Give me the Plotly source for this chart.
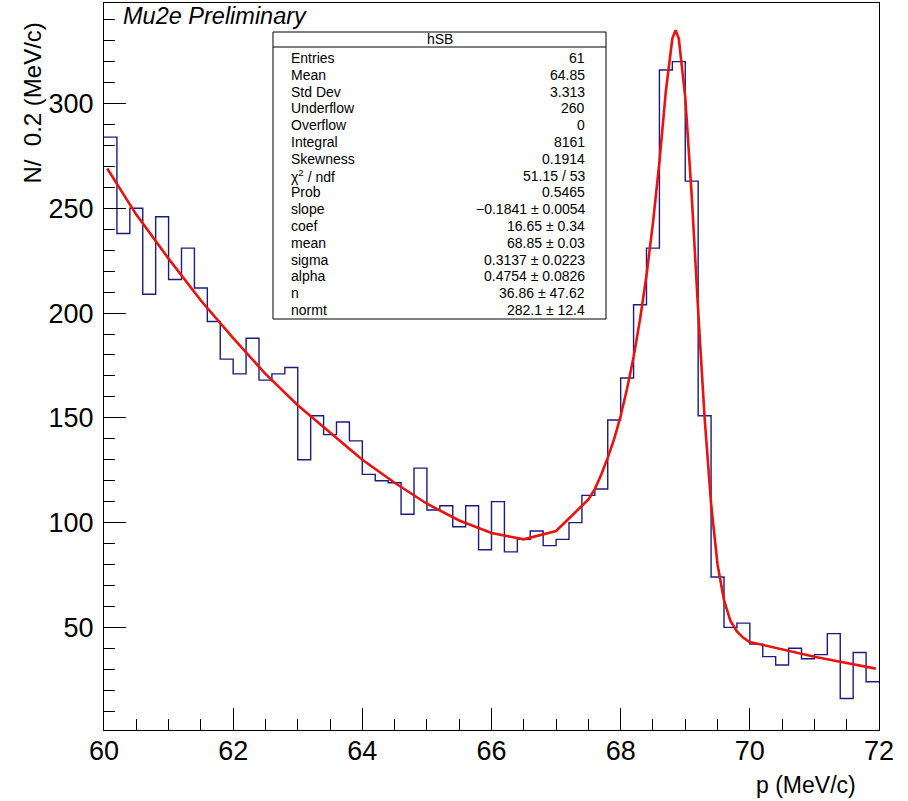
import numpy as np
import plotly.graph_objects as go

# ---------------- data ----------------
bin_lo = 60.0
bin_width = 0.2
counts = [284, 238, 250, 209, 246, 216, 231, 212, 196, 178,
          171, 188, 168, 171, 174, 130, 151, 142, 148, 139,
          123, 120, 119, 104, 126, 106, 108, 98, 108, 87,
          110, 86, 92, 96, 89, 92, 100, 113, 116, 149,
          169, 204, 231, 316, 320, 263, 151, 74, 50, 52,
          42, 36, 32, 40, 35, 37, 47, 16, 38, 24]

fit_x = [60.05, 60.5, 61.0, 61.5, 62.0, 62.5, 63.0, 63.5, 64.0, 64.5,
         65.0, 65.5, 66.0, 66.5, 67.0, 67.5, 67.6, 67.7, 67.8, 67.9,
         68.0, 68.1, 68.2, 68.3, 68.4, 68.5, 68.6, 68.7, 68.8, 68.85,
         68.9, 69.0, 69.1, 69.2, 69.3, 69.4, 69.5, 69.6, 69.7, 69.8,
         69.9, 70.0, 70.5, 71.0, 71.5, 71.95]
fit_y = [269, 247, 226, 206, 188, 171, 156, 143, 130, 119,
         109, 101, 95, 92, 96, 111, 116, 123, 131, 140,
         151, 164, 179, 197, 218, 243, 272, 306, 331, 335,
         331, 303, 256, 201, 150, 109, 80, 63, 53, 48,
         45, 43, 39.5, 36, 33, 30.3]

stat_labels = ["Entries", "Mean", "Std Dev", "Underflow", "Overflow", "Integral",
               "Skewness", "\u03c7<sup>2</sup> / ndf", "Prob", "slope", "coef", "mean",
               "sigma", "alpha", "n", "normt"]
stat_values = ["61", "64.85", "3.313", "260", "0", "8161", "0.1914", "51.15 / 53",
               "0.5465", "\u22120.1841 \u00b1 0.0054", "16.65 \u00b1 0.34",
               "68.85 \u00b1 0.03", "0.3137 \u00b1 0.0223", "0.4754 \u00b1 0.0826",
               "36.86 \u00b1 47.62", "282.1 \u00b1 12.4"]
stat_title = "hSB"

x_title = "p (MeV/c)"
y_title = "N/  0.2 (MeV/c)"
label_text = "Mu2e Preliminary"

# ---------------- figure ----------------
W, H = 908, 801
L, R, T, B = 104, 29, 3, 71
pw, ph = W - L - R, H - T - B

def px(x):
    return (x - L) / pw

def py(y):
    return (H - B - y) / ph

edges = bin_lo + bin_width * np.arange(len(counts) + 1)
hist_y = list(counts) + [counts[-1]]

font_main = "Liberation Sans, Arial, Helvetica, sans-serif"

fig = go.Figure()
fig.add_trace(go.Scatter(x=edges, y=hist_y, mode="lines", line_shape="hv",
                         line=dict(color="#1c1c80", width=1.4), hoverinfo="skip",
                         showlegend=False))
fig.add_trace(go.Scatter(x=fit_x, y=fit_y, mode="lines",
                         line=dict(color="#e8120f", width=2.6), hoverinfo="skip",
                         showlegend=False))

axis_common = dict(showgrid=False, zeroline=False, showline=True, mirror=True,
                   linecolor="black", linewidth=1, ticks="inside", ticklen=22,
                   tickwidth=1, tickcolor="black",
                   tickfont=dict(family=font_main, size=27, color="black"))

fig.update_xaxes(range=[60, 72], tick0=60, dtick=2, ticklabelstandoff=-3,
                 minor=dict(dtick=0.5, ticks="inside", ticklen=11, tickcolor="black",
                            tickwidth=1), **axis_common)
fig.update_yaxes(range=[1, 348], tick0=0, dtick=50, ticklabelstandoff=4,
                 minor=dict(dtick=10, ticks="inside", ticklen=11, tickcolor="black",
                            tickwidth=1), **axis_common)

shapes = []
annotations = []

# stats box
bx0, bx1, by0, by1 = 273, 606, 32, 319
shapes.append(dict(type="rect", xref="paper", yref="paper", x0=px(bx0), x1=px(bx1),
                   y0=py(by1), y1=py(by0), line=dict(color="black", width=1),
                   fillcolor="white", layer="above"))
shapes.append(dict(type="line", xref="paper", yref="paper", x0=px(bx0), x1=px(bx1),
                   y0=py(47), y1=py(47), line=dict(color="black", width=1), layer="above"))
stat_font = dict(family=font_main, size=14, color="black")
annotations.append(dict(xref="paper", yref="paper", x=px((bx0 + bx1) / 2), y=py(39.5),
                        text=stat_title, showarrow=False, xanchor="center",
                        yanchor="middle", font=stat_font))
for i, (lab, val) in enumerate(zip(stat_labels, stat_values)):
    yy = 58 + 16.8 * i
    annotations.append(dict(xref="paper", yref="paper", x=px(289), y=py(yy), text=lab,
                            showarrow=False, xanchor="left", yanchor="middle",
                            font=stat_font))
    annotations.append(dict(xref="paper", yref="paper", x=px(587), y=py(yy), text=val,
                            showarrow=False, xanchor="right", yanchor="middle",
                            font=stat_font))

# titles and label
annotations.append(dict(xref="paper", yref="paper", x=px(858), y=py(785), text=x_title,
                        showarrow=False, xanchor="right", yanchor="middle",
                        font=dict(family=font_main, size=23, color="black")))
annotations.append(dict(xref="paper", yref="paper", x=px(32), y=py(21), text=y_title,
                        showarrow=False, xanchor="center", yanchor="top", textangle=-90,
                        font=dict(family=font_main, size=24, color="black")))
annotations.append(dict(xref="paper", yref="paper", x=px(121), y=py(16), text=label_text,
                        showarrow=False, xanchor="left", yanchor="middle",
                        font=dict(family=font_main, size=23.5, color="black", style="italic")))

fig.update_layout(width=W, height=H, margin=dict(l=L, r=R, t=T, b=B, pad=0),
                  paper_bgcolor="white", plot_bgcolor="white", shapes=shapes,
                  annotations=annotations, showlegend=False)

fig.write_html("out.html")
